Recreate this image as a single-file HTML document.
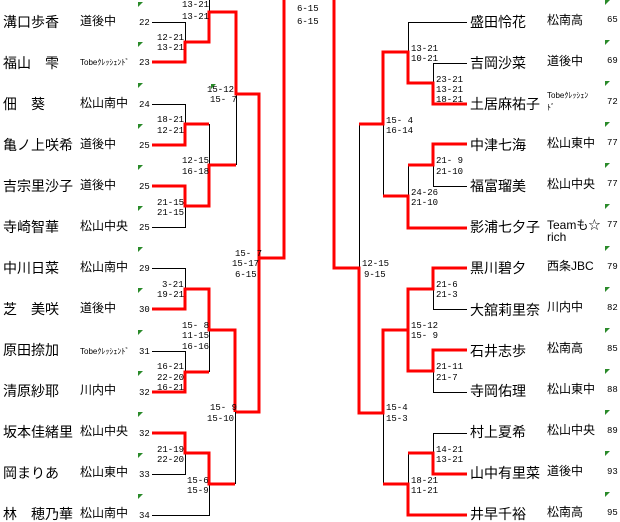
<!DOCTYPE html>
<html><head><meta charset="utf-8"><style>
body{margin:0;background:#fff;width:620px;height:522px;overflow:hidden}
svg{display:block}
.n{font:14px "Liberation Sans","Noto Sans CJK JP",sans-serif;fill:#000}
.s{font:12px "Liberation Sans","Noto Sans CJK JP",sans-serif;fill:#000}
.t{font:8px "Liberation Sans","Noto Sans CJK JP",sans-serif;fill:#000}
.c{font:9px "Liberation Mono",monospace;fill:#000}
.k{stroke:#000;stroke-width:1;fill:none}
.r{stroke:#f00;stroke-width:3;fill:none}
.g{fill:#2a8a2a}
</style></head><body>
<svg width="620" height="522" xmlns="http://www.w3.org/2000/svg">
<!-- left black lines -->
<path class="k" d="M152 22.5H185.5V42 M209.5 0V12 M236.5 94V165 M152 104.5H185.5V124 M209.5 124V165 M152 227.5H185.5V206 M152 268.5H185.5V289 M152 351.5H185.5V372 M209.5 372V330 M152 474.5H185.5V453 M235.5 412V484 M152 515.5H209.5V484"/>
<!-- left red lines -->
<path class="r" d="M152 62H185V42H209V12H236V94H259V412H236 M259 258H284V0 M152 145H185V124H209 M236 165H209V206H185V186H152 M152 309H185V289H209V330H235V412 M152 392H185V372H209 M152 433H185V453H209V484H235"/>
<!-- right black lines -->
<path class="k" d="M467 22.5H408.5V52 M467 63.5H433.5V83 M383.5 124V196 M408.5 165V196 M433.5 165V186.5H467 M359.5 124V268 M433.5 289V309.5H467 M408.5 330V371 M433.5 371V392.5H467 M383.5 413V484 M408.5 453V484 M433.5 453V433.5H467"/>
<!-- right red lines -->
<path class="r" d="M467 104H433V83H408V52H383V124H359 M383 196H408V228H467 M408 165H433V144H467 M334 0V268H359V413H383V330H408V289H433V268H467 M408 330V371H433V350H467 M383 484H408V515H467 M408 453H433V474H467"/>
<!-- green marks left -->
<g class="g">
<path d="M138 2h5l-5 5z"/><path d="M138 42h5l-5 5z"/><path d="M138 83h5l-5 5z"/><path d="M138 124h5l-5 5z"/><path d="M138 165h5l-5 5z"/><path d="M138 206h5l-5 5z"/><path d="M138 247h5l-5 5z"/><path d="M138 288h5l-5 5z"/><path d="M138 330h5l-5 5z"/><path d="M138 371h5l-5 5z"/><path d="M138 412h5l-5 5z"/><path d="M138 453h5l-5 5z"/><path d="M138 494h5l-5 5z"/><path d="M211 84h5l-5 5z"/>
<path d="M605 0h5l-5 5z"/><path d="M605 40h5l-5 5z"/><path d="M605 81h5l-5 5z"/><path d="M605 122h5l-5 5z"/><path d="M605 163h5l-5 5z"/><path d="M605 204h5l-5 5z"/><path d="M605 246h5l-5 5z"/><path d="M605 287h5l-5 5z"/><path d="M605 328h5l-5 5z"/><path d="M605 369h5l-5 5z"/><path d="M605 410h5l-5 5z"/><path d="M605 451h5l-5 5z"/><path d="M605 492h5l-5 5z"/>
</g>
<!-- left names -->
<g class="n">
<text x="3" y="27">溝口歩香</text><text x="3" y="68">福山　雫</text><text x="3" y="109">佃　葵</text><text x="3" y="150">亀ノ上咲希</text><text x="3" y="191">吉宗里沙子</text><text x="3" y="232">寺崎智華</text><text x="3" y="273">中川日菜</text><text x="3" y="314">芝　美咲</text><text x="3" y="355">原田捺加</text><text x="3" y="396">清原紗耶</text><text x="3" y="437">坂本佳緒里</text><text x="3" y="478">岡まりあ</text><text x="3" y="519">林　穂乃華</text>
</g>
<g class="s">
<text x="80" y="25">道後中</text><text x="80" y="107">松山南中</text><text x="80" y="148">道後中</text><text x="80" y="189">道後中</text><text x="80" y="230">松山中央</text><text x="80" y="271">松山南中</text><text x="80" y="312">道後中</text><text x="80" y="394">川内中</text><text x="80" y="435">松山中央</text><text x="80" y="476">松山東中</text><text x="80" y="517">松山南中</text>
</g>
<text class="t" x="80" y="65">Tobeｸﾚｯｼｪﾝﾄﾞ</text><text class="t" x="80" y="354">Tobeｸﾚｯｼｪﾝﾄﾞ</text>
<g class="c">
<text x="139" y="25">22</text><text x="139" y="65">23</text><text x="139" y="107">24</text><text x="139" y="148">25</text><text x="139" y="189">25</text><text x="139" y="230">25</text><text x="139" y="271">29</text><text x="139" y="312">30</text><text x="139" y="354">31</text><text x="139" y="395">32</text><text x="139" y="436">32</text><text x="139" y="477">33</text><text x="139" y="518">34</text>
<text x="182" y="7">13-21</text><text x="182" y="19">13-21</text>
<text x="157" y="40">12-21</text><text x="157" y="50">13-21</text>
<text x="207" y="92">15-12</text><text x="210" y="102">15- 7</text>
<text x="157" y="122">18-21</text><text x="157" y="133">12-21</text>
<text x="182" y="163">12-15</text><text x="182" y="174">16-18</text>
<text x="157" y="205">21-15</text><text x="157" y="215">21-15</text>
<text x="235" y="256">15- 7</text><text x="232" y="266">15-17</text><text x="235" y="277">6-15</text>
<text x="297" y="11">6-15</text><text x="297" y="24">6-15</text>
<text x="162" y="287">3-21</text><text x="157" y="297">19-21</text>
<text x="182" y="328">15- 8</text><text x="182" y="338">11-15</text><text x="182" y="349">16-16</text>
<text x="157" y="369">16-21</text><text x="157" y="380">22-20</text><text x="157" y="390">16-21</text>
<text x="210" y="410">15- 9</text><text x="207" y="421">15-10</text>
<text x="157" y="452">21-19</text><text x="157" y="462">22-20</text>
<text x="187" y="483">15-6</text><text x="187" y="493">15-9</text>
<!-- right scores -->
<text x="411" y="51">13-21</text><text x="411" y="61">10-21</text>
<text x="436" y="82">23-21</text><text x="436" y="92">13-21</text><text x="436" y="102">18-21</text>
<text x="386" y="123">15- 4</text><text x="386" y="133">16-14</text>
<text x="436" y="163">21- 9</text><text x="436" y="174">21-10</text>
<text x="411" y="195">24-26</text><text x="411" y="205">21-10</text>
<text x="362" y="266">12-15</text><text x="364" y="277">9-15</text>
<text x="436" y="287">21-6</text><text x="436" y="297">21-3</text>
<text x="411" y="328">15-12</text><text x="411" y="338">15- 9</text>
<text x="436" y="369">21-11</text><text x="436" y="380">21-7</text>
<text x="386" y="410">15-4</text><text x="386" y="421">15-3</text>
<text x="436" y="452">14-21</text><text x="436" y="462">13-21</text>
<text x="411" y="483">18-21</text><text x="411" y="493">11-21</text>
<text x="607" y="22">65</text><text x="607" y="63">69</text><text x="607" y="104">72</text><text x="607" y="145">77</text><text x="607" y="186">77</text><text x="607" y="227">77</text><text x="607" y="269">79</text><text x="607" y="310">82</text><text x="607" y="351">85</text><text x="607" y="392">88</text><text x="607" y="433">89</text><text x="607" y="474">93</text><text x="607" y="515">95</text>
</g>
<g class="n">
<text x="470" y="27">盛田怜花</text><text x="470" y="68">吉岡沙菜</text><text x="470" y="109">土居麻祐子</text><text x="470" y="150">中津七海</text><text x="470" y="191">福富瑠美</text><text x="470" y="232">影浦七夕子</text><text x="470" y="273">黒川碧夕</text><text x="470" y="315">大舘莉里奈</text><text x="470" y="356">石井志歩</text><text x="470" y="396">寺岡佑理</text><text x="470" y="437">村上夏希</text><text x="470" y="478">山中有里菜</text><text x="470" y="519">井早千裕</text>
</g>
<g class="s">
<text x="547" y="24">松南高</text><text x="547" y="65">道後中</text><text x="547" y="147">松山東中</text><text x="547" y="188">松山中央</text><text x="547" y="229">Teamも☆</text><text x="547" y="241">rich</text><text x="547" y="270">西条JBC</text><text x="547" y="311">川内中</text><text x="547" y="352">松南高</text><text x="547" y="393">松山東中</text><text x="547" y="434">松山中央</text><text x="547" y="475">道後中</text><text x="547" y="516">松南高</text>
</g>
<text class="t" x="547" y="98">Tobeｸﾚｯｼｪﾝ</text><text class="t" x="547" y="110">ﾄﾞ</text>
</svg>
</body></html>
